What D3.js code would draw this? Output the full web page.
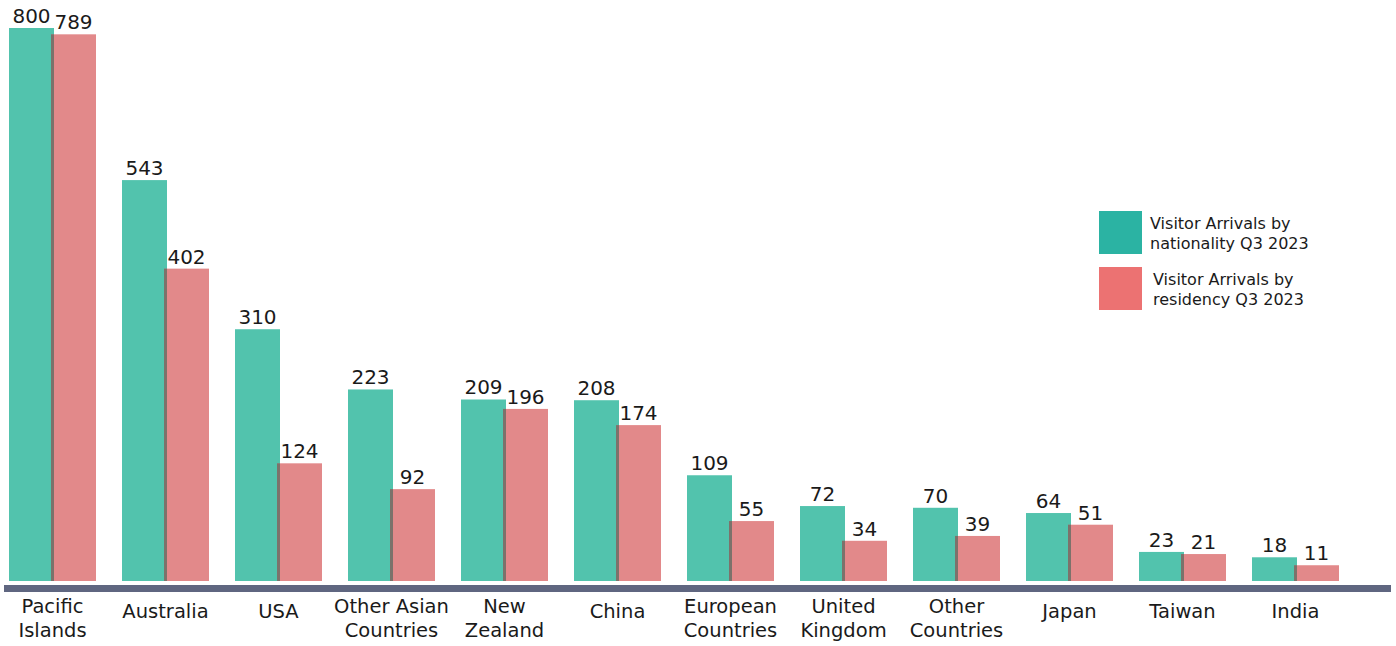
<!DOCTYPE html>
<html>
<head>
<meta charset="utf-8">
<script src="https://cdn.jsdelivr.net/npm/d3@7"></script>
<style>
  html, body { margin: 0; padding: 0; background: #ffffff; }
  svg { display: block; font-family: "DejaVu Sans", "Open Sans", sans-serif; }
</style>
</head>
<body>
<svg id="chart" width="1396" height="646"></svg>
<script>
// Visitor arrivals, Q3 2023
const categories = [
  ["Pacific", "Islands"], ["Australia"], ["USA"], ["Other Asian", "Countries"],
  ["New", "Zealand"], ["China"], ["European", "Countries"], ["United", "Kingdom"],
  ["Other", "Countries"], ["Japan"], ["Taiwan"], ["India"]
];
const byNationality = [800, 543, 310, 223, 209, 208, 109, 72, 70, 64, 23, 18];
const byResidency   = [789, 402, 124, 92, 196, 174, 55, 34, 39, 51, 21, 11];
const seriesNames = [
  ["Visitor Arrivals by", "nationality Q3 2023"],
  ["Visitor Arrivals by", "residency Q3 2023"]
];

const colors = { nat: "#52c3ad", res: "#e2898a", natKey: "#2bb3a3", resKey: "#ec7272" };

const svg = d3.select("#chart");
const baseY = 581;
const barW = 45;
const overlap = 3;

const x = d3.scaleBand()
  .domain(d3.range(categories.length))
  .range([9, 1365])
  .padding(0);

// bar heights compress the long tail so small values stay readable
const h = d3.scalePow().exponent(0.83).domain([0, 800]).range([0, 553]);

const groups = svg.append("g").selectAll("g.cat")
  .data(categories.map((c, i) => ({ c, i, nat: byNationality[i], res: byResidency[i] })))
  .join("g")
  .attr("class", "cat")
  .attr("transform", d => `translate(${x(d.i)},0)`);

// nationality bar
groups.append("rect")
  .attr("x", 0)
  .attr("width", barW)
  .attr("y", d => baseY - h(d.nat))
  .attr("height", d => h(d.nat))
  .attr("fill", colors.nat);

// residency bar, tucked slightly under the first with a narrow shade on its edge
groups.append("rect")
  .attr("x", barW - overlap)
  .attr("width", barW)
  .attr("y", d => baseY - h(d.res))
  .attr("height", d => h(d.res))
  .attr("fill", colors.res);

groups.append("rect")
  .attr("x", barW - overlap)
  .attr("width", overlap)
  .attr("y", d => baseY - h(d.res))
  .attr("height", d => h(d.res))
  .attr("fill", "rgba(40,95,82,0.55)");

// value labels
groups.append("text")
  .attr("x", barW / 2)
  .attr("y", d => baseY - h(d.nat) - 5)
  .attr("text-anchor", "middle")
  .attr("font-size", 20)
  .attr("fill", "#1a1a1a")
  .text(d => d.nat);

groups.append("text")
  .attr("x", barW - overlap + barW / 2)
  .attr("y", d => baseY - h(d.res) - 5)
  .attr("text-anchor", "middle")
  .attr("font-size", 20)
  .attr("fill", "#1a1a1a")
  .text(d => d.res);

// baseline bar
svg.append("rect")
  .attr("x", 4).attr("y", 585)
  .attr("width", 1387).attr("height", 7)
  .attr("fill", "#5f6680");

// category labels, one text per line
groups.each(function(d) {
  const grp = d3.select(this);
  const y0 = d.c.length === 1 ? 618 : 613;
  d.c.forEach((line, k) => {
    grp.append("text")
      .attr("x", (2 * barW - overlap) / 2)
      .attr("y", y0 + k * 24)
      .attr("text-anchor", "middle")
      .attr("font-size", 19.5)
      .attr("fill", "#1a1a1a")
      .text(line);
  });
});

// legend
const legend = svg.append("g");
const keys = [
  { fill: colors.natKey, y: 211, tx: 1150, names: seriesNames[0] },
  { fill: colors.resKey, y: 267, tx: 1153, names: seriesNames[1] }
];
keys.forEach(k => {
  legend.append("rect")
    .attr("x", 1099).attr("y", k.y)
    .attr("width", 43).attr("height", 43)
    .attr("fill", k.fill);
  k.names.forEach((line, j) => {
    legend.append("text")
      .attr("x", k.tx)
      .attr("y", k.y + 18 + j * 20)
      .attr("font-size", 16)
      .attr("fill", "#1a1a1a")
      .text(line);
  });
});
</script>
</body>
</html>
